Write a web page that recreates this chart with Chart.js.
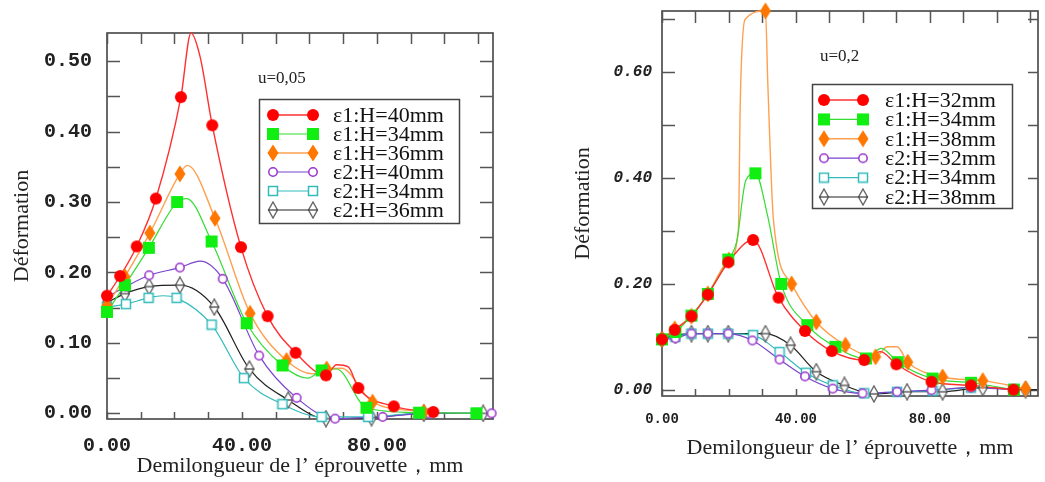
<!DOCTYPE html>
<html>
<head>
<meta charset="utf-8">
<script src="https://cdn.jsdelivr.net/npm/chart.js@4"></script>
<style>
html, body { margin: 0; padding: 0; background: #fff; }
#chartL { position: absolute; left: 0; top: 0; }
#chartR { position: absolute; left: 540px; top: 0; }
</style>
</head>
<body>
<canvas id="chartL" width="520" height="482"></canvas>
<canvas id="chartR" width="505" height="482"></canvas>
<script>
// ---- données : [x (mm), déformation] ----
// u = 0,05 (graphique de gauche)
const lE1H40 = [[0,0.167],[3.9,0.195],[8.8,0.237],[14.5,0.305],[21.9,0.449],[31.2,0.409],[39.7,0.236],[47.6,0.138],[55.9,0.086],[64.9,0.054],[74.5,0.036],[85.0,0.010],[96.7,0.002]];
const lE1H40Line = [[24.9,0.540],[27.6,0.506],[68.0,0.069],[71.5,0.066]];
const lE1H34 = [[0,0.144],[5.3,0.182],[12.4,0.235],[20.8,0.300],[31.0,0.244],[41.4,0.128],[52.0,0.068],[63.6,0.061],[76.9,0.008],[92.5,0.001],[109.5,0]];
const lE1H34Line = [[23.6,0.305],[59.5,0.050],[68.0,0.063]];
const lE1H36 = [[0,0.153],[5.3,0.194],[12.7,0.256],[21.6,0.340],[32.0,0.277],[42.4,0.142],[53.2,0.075],[65.1,0.063],[78.7,0.016],[93.9,0.002]];
const lE1H36Line = [[23.8,0.352],[61.0,0.056],[69.5,0.064]];
const lE2H40 = [[0,0.165],[5.6,0.180],[12.5,0.196],[21.6,0.207],[34.3,0.191],[45.1,0.082],[56.2,0.022],[67.6,-0.0075],[81.7,-0.005],[95.4,0],[114.0,0]];
const lE2H40Line = [[27.6,0.216]];
const lE2H34 = [[0,0.151],[5.6,0.155],[12.3,0.164],[20.6,0.164],[31.0,0.126],[40.6,0.050],[52.0,0.013],[63.6,-0.005],[77.4,-0.005],[92.7,0],[109.5,0]];
const lE2H34Line = [[16.5,0.167]];
const lE2H36 = [[0,0.157],[5.3,0.170],[12.5,0.180],[21.6,0.182],[31.8,0.151],[42.2,0.063],[53.7,0.019],[64.9,-0.0075],[78.4,-0.006],[93.9,0],[111.5,0]];
const lE2H36Line = [[114.4,0]];

// u = 0,2 (graphique de droite)
const rE1H32 = [[0,0.095],[3.8,0.113],[8.8,0.139],[13.7,0.180],[19.8,0.241],[27.2,0.283],[34.8,0.174],[42.7,0.111],[50.7,0.073],[60.4,0.056],[70.0,0.048],[80.5,0.015],[92.3,0.008],[105.0,0]];
const rE1H32Line = [[65.3,0.072]];
const rE1H34 = [[0,0.095],[4.0,0.109],[8.8,0.140],[13.7,0.181],[19.8,0.246],[27.9,0.409],[35.6,0.200],[43.4,0.122],[51.8,0.081],[60.9,0.059],[70.4,0.052],[80.8,0.021],[92.3,0.013],[105.1,0]];
const rE1H34Line = [[22.3,0.280],[25.0,0.395],[31.5,0.330],[65.5,0.078]];
const rE1H38 = [[0,0.095],[3.8,0.115],[8.8,0.139],[13.7,0.181],[20.0,0.245],[30.9,0.716],[38.7,0.200],[46.1,0.128],[54.8,0.084],[63.8,0.062],[73.4,0.052],[83.8,0.024],[95.8,0.017],[108.6,0.002]];
const rE1H38Line = [[22.8,0.300],[23.4,0.550],[24.8,0.700],[31.6,0.580],[33.3,0.320],[67.3,0.081],[70.2,0.081]];
const rE2H32 = [[0,0.095],[4.0,0.097],[8.8,0.106],[13.7,0.106],[19.8,0.106],[27.0,0.093],[35.1,0.057],[42.7,0.025],[51.0,0.002],[59.9,-0.007],[70.2,-0.004],[80.5,-0.001],[92.3,0.004],[105.0,0]];
const rE2H34 = [[0,0.095],[4.0,0.100],[8.8,0.106],[13.7,0.106],[19.8,0.106],[27.2,0.103],[35.1,0.071],[43.0,0.032],[51.0,0.008],[60.4,-0.007],[70.2,-0.004],[80.8,-0.002],[92.3,0.004],[105.0,0.001]];
const rE2H38 = [[0,0.095],[4.0,0.103],[8.8,0.106],[13.7,0.106],[19.8,0.106],[30.9,0.106],[38.4,0.084],[46.1,0.034],[54.5,0.008],[63.3,-0.008],[73.2,-0.004],[83.8,-0.004],[95.8,0.004],[108.6,0]];
const rE2H38Line = [[112.0,0]];

const labelsL = ['ε1:H=40mm', 'ε1:H=34mm', 'ε1:H=36mm', 'ε2:H=40mm', 'ε2:H=34mm', 'ε2:H=36mm'];
const labelsR = ['ε1:H=32mm', 'ε1:H=34mm', 'ε1:H=38mm', 'ε2:H=32mm', 'ε2:H=34mm', 'ε2:H=38mm'];

// graduations avec étiquette
const xLabelled = [0, 40, 80];
const yLabelledL = [0, 0.1, 0.2, 0.3, 0.4, 0.5];
const yLabelledR = [0, 0.2, 0.4, 0.6];

const xTitle = 'Demilongueur de l\u2019 éprouvette，mm';
const yTitle = 'Déformation';

// ---- marqueurs (petits canvas utilisés comme pointStyle) ----
function marker(kind) {
    const sizes = { dot: [14, 14], square: [14, 14], diamond: [12, 18], ring: [12, 12], box: [12, 12], lozenge: [12, 18] };
    const c = document.createElement('canvas');
    c.width = sizes[kind][0];
    c.height = sizes[kind][1];
    const g = c.getContext('2d');
    const w = c.width, h = c.height;
    g.beginPath();
    if (kind === 'dot') {
        g.arc(w / 2, h / 2, 6, 0, Math.PI * 2);
        g.fillStyle = '#ff0000'; g.fill();
    } else if (kind === 'square') {
        g.fillStyle = '#11ee11'; g.fillRect(1, 1, 12, 12);
    } else if (kind === 'diamond') {
        g.moveTo(w / 2, 0.5); g.lineTo(w - 0.5, h / 2); g.lineTo(w / 2, h - 0.5); g.lineTo(0.5, h / 2); g.closePath();
        g.fillStyle = '#ff7700'; g.fill();
    } else if (kind === 'ring') {
        g.arc(w / 2, h / 2, 4.2, 0, Math.PI * 2);
        g.fillStyle = '#fff'; g.fill();
        g.strokeStyle = '#9933cc'; g.lineWidth = 1.5; g.stroke();
    } else if (kind === 'box') {
        g.rect(1.5, 1.5, 9, 9);
        g.fillStyle = '#fff'; g.fill();
        g.strokeStyle = '#33bbbb'; g.lineWidth = 1.5; g.stroke();
    } else if (kind === 'lozenge') {
        g.moveTo(w / 2, 1); g.lineTo(w - 1.5, h / 2); g.lineTo(w / 2, h - 1); g.lineTo(1.5, h / 2); g.closePath();
        g.fillStyle = '#fff'; g.fill();
        g.strokeStyle = '#666'; g.lineWidth = 1.4; g.stroke();
        g.beginPath(); g.moveTo(1.5, h / 2); g.lineTo(w - 1.5, h / 2);
        g.strokeStyle = '#111'; g.lineWidth = 1; g.stroke();
    }
    return c;
}

const STYLES = [
    { line: '#ff3030', width: 1.4, img: marker('dot') },
    { line: '#33dd33', width: 1.2, img: marker('square') },
    { line: '#ffa050', width: 1.4, img: marker('diamond') },
    { line: '#7744cc', width: 1.2, img: marker('ring') },
    { line: '#33bbbb', width: 1.2, img: marker('box') },
    { line: '#222222', width: 1.2, img: marker('lozenge') }
];

function toXY(list) {
    return list.map(p => ({ x: p[0], y: p[1] }));
}

function buildDatasets(labels, pts, extras) {
    const marks = [], lines = [];
    labels.forEach((lab, i) => {
        const st = STYLES[i];
        const curve = pts[i].concat(extras[i] || []).sort((a, b) => a[0] - b[0]);
        marks.push({
            label: lab, data: toXY(pts[i]), showLine: false,
            pointStyle: st.img, pointRadius: 6, pointHoverRadius: 6, clip: false
        });
        lines.push({
            label: lab + ' (courbe)', data: toXY(curve), showLine: true,
            borderColor: st.line, borderWidth: st.width, pointRadius: 0, pointHoverRadius: 0,
            cubicInterpolationMode: 'monotone', clip: false, fill: false
        });
    });
    // index 0 est dessiné en dernier -> marqueurs au-dessus des courbes
    return marks.concat(lines);
}

// cadre + graduations intérieures
const framePlugin = {
    id: 'frame',
    beforeDatasetsDraw(chart, args, o) {
        const { ctx, chartArea: a } = chart;
        const x = chart.scales.x, y = chart.scales.y;
        ctx.save();
        ctx.strokeStyle = '#444';
        ctx.lineWidth = 1.6;
        ctx.strokeRect(a.left, a.top, a.right - a.left, a.bottom - a.top);
        ctx.lineWidth = 1.5;
        ctx.strokeStyle = '#555';
        ctx.beginPath();
        x.ticks.forEach(t => {
            const px = Math.round(x.getPixelForValue(t.value)) + 0.5;
            ctx.moveTo(px, a.bottom); ctx.lineTo(px, a.bottom - o.bottomLen);
            ctx.moveTo(px, a.top); ctx.lineTo(px, a.top + o.topLen);
        });
        y.ticks.forEach(t => {
            const py = Math.round(y.getPixelForValue(t.value)) + 0.5;
            ctx.moveTo(a.left, py); ctx.lineTo(a.left + o.leftLen, py);
            ctx.moveTo(a.right, py); ctx.lineTo(a.right - o.rightLen, py);
        });
        ctx.stroke();
        ctx.restore();
    }
};

// légende encadrée et mention u=...
const keyPlugin = {
    id: 'key',
    afterDraw(chart, args, o) {
        const ctx = chart.ctx;
        ctx.save();
        ctx.textBaseline = 'middle';
        ctx.fillStyle = '#222';
        ctx.font = o.noteFont;
        ctx.fillText(o.note, o.noteX, o.noteY);
        ctx.strokeStyle = '#444';
        ctx.lineWidth = 1.5;
        ctx.strokeRect(o.box[0] + 0.5, o.box[1] + 0.5, o.box[2], o.box[3]);
        ctx.font = o.font;
        o.labels.forEach((lab, i) => {
            const st = STYLES[i];
            const yy = o.rowY + i * o.rowStep;
            ctx.strokeStyle = st.line;
            ctx.lineWidth = st.width;
            ctx.beginPath(); ctx.moveTo(o.x0, yy); ctx.lineTo(o.x1, yy); ctx.stroke();
            ctx.drawImage(st.img, o.x0 - st.img.width / 2, yy - st.img.height / 2);
            ctx.drawImage(st.img, o.x1 - st.img.width / 2, yy - st.img.height / 2);
            ctx.fillStyle = '#111';
            ctx.fillText(lab, o.textX, yy + 1);
        });
        ctx.restore();
    }
};

const monoFam = '"Liberation Mono", "Courier New", monospace';
const serifFam = '"Liberation Serif", "Times New Roman", serif';

function near(list, v) {
    return list.some(t => Math.abs(t - v) < 1e-6);
}

// taille fixe des axes, sans marge ajoutée pour les étiquettes
function fixBox(prop, size) {
    return s => {
        s[prop] = size;
        s.paddingTop = 0; s.paddingBottom = 0;
        s.paddingLeft = 0; s.paddingRight = 0;
    };
}

function makeChart(id, datasets, cfg) {
    new Chart(document.getElementById(id), {
        type: 'scatter',
        data: { datasets: datasets },
        options: {
            responsive: false,
            animation: false,
            events: [],
            layout: { padding: cfg.padding },
            plugins: {
                legend: { display: false },
                tooltip: { enabled: false },
                frame: cfg.frame,
                key: cfg.key
            },
            scales: {
                x: {
                    type: 'linear',
                    min: 0, max: cfg.xMax,
                    afterFit: fixBox('height', cfg.xHeight),
                    grid: { display: false, drawTicks: false },
                    border: { display: false },
                    ticks: {
                        stepSize: 10, includeBounds: false, autoSkip: false, maxRotation: 0,
                        padding: cfg.xPad, color: '#222',
                        font: cfg.xFont,
                        callback: v => near(xLabelled, v) ? v.toFixed(2) : ''
                    },
                    title: {
                        display: true, text: xTitle, color: '#222',
                        font: { family: serifFam, size: 22 },
                        padding: { top: 0, bottom: cfg.xTitlePad }
                    }
                },
                y: {
                    type: 'linear',
                    min: cfg.yMin, max: cfg.yMax,
                    afterFit: fixBox('width', cfg.yWidth),
                    grid: { display: false, drawTicks: false },
                    border: { display: false },
                    ticks: {
                        stepSize: cfg.yStep, includeBounds: false, autoSkip: false,
                        padding: cfg.yPad, color: '#222',
                        font: cfg.yFont,
                        callback: v => near(cfg.yLabelled, v) ? v.toFixed(2) : ''
                    },
                    title: {
                        display: true, text: yTitle, color: '#222',
                        font: { family: serifFam, size: 22 },
                        padding: { top: cfg.yTitlePad, bottom: 0 }
                    }
                }
            }
        },
        plugins: [framePlugin, keyPlugin]
    });
}

makeChart('chartL',
    buildDatasets(labelsL,
        [lE1H40, lE1H34, lE1H36, lE2H40, lE2H34, lE2H36],
        [lE1H40Line, lE1H34Line, lE1H36Line, lE2H40Line, lE2H34Line, lE2H36Line]),
    {
        padding: { left: 0, top: 33, right: 27, bottom: 0 },
        xMax: 114.4, xHeight: 63, xPad: 15, xTitlePad: 3,
        xFont: { family: monoFam, size: 20, weight: 'bold' },
        yMin: -0.008, yMax: 0.54, yStep: 0.05, yWidth: 107, yPad: 15, yTitlePad: 9,
        yLabelled: yLabelledL,
        yFont: { family: monoFam, size: 20, weight: 'bold' },
        frame: { bottomLen: 7, topLen: 11, leftLen: 13, rightLen: 13 },
        key: {
            note: 'u=0,05', noteX: 258, noteY: 79, noteFont: '17px ' + serifFam,
            box: [259, 99, 200, 124], labels: labelsL,
            rowY: 115, rowStep: 19, x0: 273, x1: 313, textX: 333,
            font: '22px ' + serifFam
        }
    });

makeChart('chartR',
    buildDatasets(labelsR,
        [rE1H32, rE1H34, rE1H38, rE2H32, rE2H34, rE2H38],
        [rE1H32Line, rE1H34Line, rE1H38Line, [], [], rE2H38Line]),
    {
        padding: { left: 0, top: 11, right: 2, bottom: 0 },
        xMax: 112.3, xHeight: 86, xPad: 15, xTitlePad: 21,
        xFont: { family: monoFam, size: 14, weight: 'bold' },
        yMin: -0.012, yMax: 0.716, yStep: 0.1, yWidth: 122, yPad: 10, yTitlePad: 30,
        yLabelled: yLabelledR,
        yFont: { family: monoFam, size: 16, weight: 'bold', style: 'italic' },
        frame: { bottomLen: 7, topLen: 12, leftLen: 13, rightLen: 10 },
        key: {
            note: 'u=0,2', noteX: 280, noteY: 57, noteFont: '17px ' + serifFam,
            box: [272, 84, 200, 124], labels: labelsR,
            rowY: 100, rowStep: 19.4, x0: 284, x1: 323, textX: 345,
            font: '22px ' + serifFam
        }
    });
</script>
</body>
</html>
